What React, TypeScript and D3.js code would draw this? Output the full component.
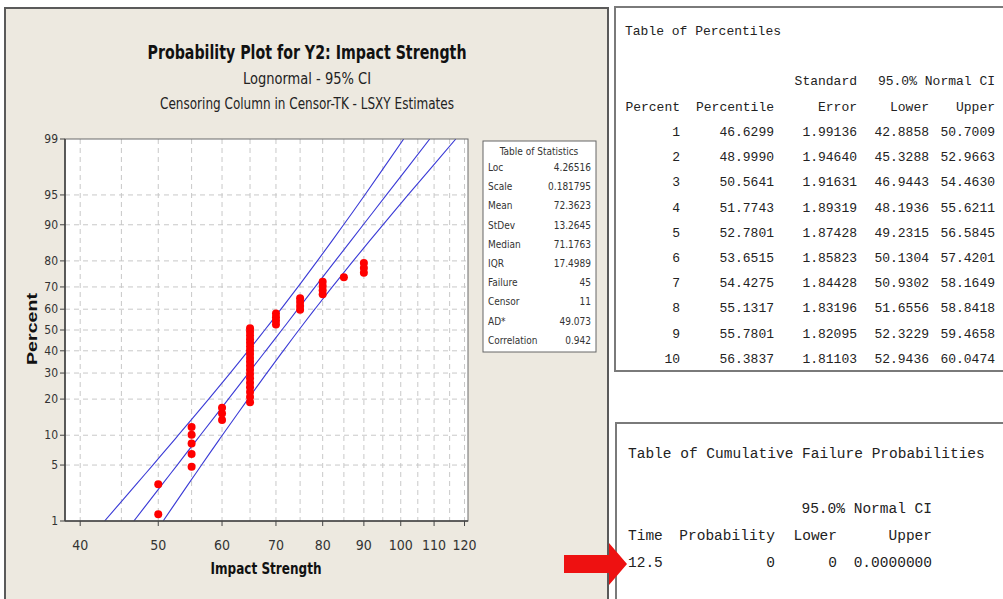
import React from "react";
import * as d3 from "d3";

// ---------- data ----------
const yTickPercents = [1, 5, 10, 20, 30, 40, 50, 60, 70, 80, 90, 95, 99];
const yGridPercents = [5, 10, 20, 30, 40, 50, 60, 70, 80, 90, 95];
const xTickValues = [40, 50, 60, 70, 80, 90, 100, 110, 120];
const xGridValues = [40, 45, 50, 55, 60, 65, 70, 75, 80, 85, 90, 95, 100, 105, 110, 115, 120];

const failureStrength = [
  50, 50,
  55, 55, 55, 55, 55,
  60, 60, 60,
  65, 65, 65, 65, 65, 65, 65, 65, 65, 65, 65, 65, 65, 65, 65, 65, 65, 65, 65,
  70, 70, 70, 70,
  75, 75, 75, 75,
  80, 80, 80, 80,
  85,
  90, 90, 90,
];
const failurePercent = [
  1.24, 3.01,
  4.79, 6.56, 8.33, 10.11, 11.88,
  13.65, 15.43, 17.2,
  18.97, 20.74, 22.52, 24.29, 26.06, 27.84, 29.61, 31.38, 33.16, 34.93, 36.7, 38.48, 40.25, 42.02, 43.79, 45.57, 47.34, 49.11, 50.89,
  52.66, 54.43, 56.21, 57.98,
  59.75, 61.52, 63.3, 65.07,
  66.84, 68.62, 70.39, 72.16,
  73.94,
  75.71, 77.48, 79.26,
];

const bandPercent = [1, 2, 3, 4, 5, 6, 7, 8, 9, 10, 20, 30, 40, 50, 60, 70, 80, 90, 95, 99];
const bandFit = [46.6299, 48.999, 50.5641, 51.7743, 52.7801, 53.6515, 54.4275, 55.1317, 55.7801, 56.3837, 61.09, 64.71, 67.98, 71.18, 74.52, 78.29, 82.93, 89.84, 95.99, 108.65];
const bandLower = [42.8858, 45.3288, 46.9443, 48.1936, 49.2315, 50.1304, 50.9302, 51.6556, 52.3229, 52.9436, 57.75, 61.41, 64.66, 67.79, 71.0, 74.54, 78.79, 84.93, 90.24, 100.85];
const bandUpper = [50.7009, 52.9663, 54.463, 55.6211, 56.5845, 57.4201, 58.1649, 58.8418, 59.4658, 60.0474, 64.62, 68.19, 71.47, 74.73, 78.22, 82.23, 87.29, 95.04, 102.11, 117.05];

const statLabels = ["Loc", "Scale", "Mean", "StDev", "Median", "IQR", "Failure", "Censor", "AD*", "Correlation"];
const statValues = ["4.26516", "0.181795", "72.3623", "13.2645", "71.1763", "17.4989", "45", "11", "49.073", "0.942"];

const pctPercent = ["1", "2", "3", "4", "5", "6", "7", "8", "9", "10"];
const pctPercentile = ["46.6299", "48.9990", "50.5641", "51.7743", "52.7801", "53.6515", "54.4275", "55.1317", "55.7801", "56.3837"];
const pctStdError = ["1.99136", "1.94640", "1.91631", "1.89319", "1.87428", "1.85823", "1.84428", "1.83196", "1.82095", "1.81103"];
const pctLower = ["42.8858", "45.3288", "46.9443", "48.1936", "49.2315", "50.1304", "50.9302", "51.6556", "52.3229", "52.9436"];
const pctUpper = ["50.7009", "52.9663", "54.4630", "55.6211", "56.5845", "57.4201", "58.1649", "58.8418", "59.4658", "60.0474"];

const cfpTime = ["12.5"];
const cfpProbability = ["0"];
const cfpLower = ["0"];
const cfpUpper = ["0.0000000"];

// ---------- helpers ----------
function probit(p: number): number {
  const a = [-3.969683028665376e1, 2.209460984245205e2, -2.759285104469687e2, 1.38357751867269e2, -3.066479806614716e1, 2.506628277459239];
  const b = [-5.447609879822406e1, 1.615858368580409e2, -1.556989798598866e2, 6.680131188771972e1, -1.328068155288572e1];
  const c = [-7.784894002430293e-3, -3.223964580411365e-1, -2.400758277161838, -2.549732539343734, 4.374664141464968, 2.938163982698783];
  const d = [7.784695709041462e-3, 3.224671290700398e-1, 2.445134137142996, 3.754408661907416];
  const plow = 0.02425;
  if (p < plow) {
    const q = Math.sqrt(-2 * Math.log(p));
    return (((((c[0] * q + c[1]) * q + c[2]) * q + c[3]) * q + c[4]) * q + c[5]) / ((((d[0] * q + d[1]) * q + d[2]) * q + d[3]) * q + 1);
  }
  if (p <= 1 - plow) {
    const q = p - 0.5;
    const r = q * q;
    return ((((((a[0] * r + a[1]) * r + a[2]) * r + a[3]) * r + a[4]) * r + a[5]) * q) / (((((b[0] * r + b[1]) * r + b[2]) * r + b[3]) * r + b[4]) * r + 1);
  }
  const q = Math.sqrt(-2 * Math.log(1 - p));
  return -(((((c[0] * q + c[1]) * q + c[2]) * q + c[3]) * q + c[4]) * q + c[5]) / ((((d[0] * q + d[1]) * q + d[2]) * q + d[3]) * q + 1);
}

const PL = 65, PR = 468, PT = 139, PB = 521;
const xScale = d3.scaleLog().domain([38.3, 121.2]).range([PL, PR]);
const zScale = d3.scaleLinear().domain([probit(0.01), probit(0.99)]).range([PB, PT]);
const yPos = (pct: number) => zScale(probit(pct / 100));

const sansFont = "'DejaVu Sans Condensed', 'Liberation Sans Narrow', Tahoma, 'Liberation Sans', Arial, sans-serif";
const monoFont = "'Liberation Mono', 'Courier New', 'DejaVu Sans Mono', monospace";

export default function App() {
  const lineGen = (vals: number[]) =>
    d3
      .line<number>()
      .x((v) => xScale(v))
      .y((_, i) => yPos(bandPercent[i]))
      .curve(d3.curveCatmullRom.alpha(0.5))(vals) || "";

  const bandColor = "#3a3ad6";
  const rowY0 = 136;
  const rowStep = 25.2;

  return (
    <svg width={1003} height={599} style={{ position: "absolute", left: 0, top: 0 }}>
      <rect x={0} y={0} width={1003} height={599} fill="#ffffff" />
      {/* left panel */}
      <rect x={5} y={8} width={603} height={600} fill="#ede9e0" stroke="#5a5a5a" strokeWidth={2} />

      {/* titles */}
      <text x={307} y={59} textAnchor="middle" fontFamily={sansFont} fontWeight="bold" fontSize={20} fill="#111" textLength={319} lengthAdjust="spacingAndGlyphs">
        Probability Plot for Y2: Impact Strength
      </text>
      <text x={307} y={84} textAnchor="middle" fontFamily={sansFont} fontSize={15} fill="#222" textLength={128} lengthAdjust="spacingAndGlyphs">
        Lognormal - 95% CI
      </text>
      <text x={307} y={109} textAnchor="middle" fontFamily={sansFont} fontSize={15} fill="#222" textLength={294} lengthAdjust="spacingAndGlyphs">
        Censoring Column in Censor-TK - LSXY Estimates
      </text>

      {/* plot area */}
      <defs>
        <clipPath id="plotClip">
          <rect x={PL} y={PT} width={PR - PL} height={PB - PT} />
        </clipPath>
      </defs>
      <rect x={PL} y={PT} width={PR - PL} height={PB - PT} fill="#ffffff" />
      {xGridValues.map((v) => (
        <line key={"gx" + v} x1={xScale(v)} x2={xScale(v)} y1={PT} y2={PB} stroke="#c8c8c8" strokeWidth={1} strokeDasharray="5,4" />
      ))}
      {yGridPercents.map((p) => (
        <line key={"gy" + p} x1={PL} x2={PR} y1={yPos(p)} y2={yPos(p)} stroke="#c8c8c8" strokeWidth={1} strokeDasharray="5,4" />
      ))}

      <g clipPath="url(#plotClip)">
        <path d={lineGen(bandLower)} fill="none" stroke={bandColor} strokeWidth={1.1} />
        <path d={lineGen(bandFit)} fill="none" stroke={bandColor} strokeWidth={1.1} />
        <path d={lineGen(bandUpper)} fill="none" stroke={bandColor} strokeWidth={1.1} />
      </g>

      {failureStrength.map((v, i) => (
        <circle key={"pt" + i} cx={xScale(v)} cy={yPos(failurePercent[i])} r={4} fill="#ff0000" />
      ))}

      {/* frame */}
      <rect x={PL} y={PT} width={PR - PL} height={PB - PT} fill="none" stroke="#6a6a6a" strokeWidth={1} />
      <line x1={PL} x2={PL} y1={PT} y2={PB} stroke="#444" strokeWidth={1.6} />
      <line x1={PL} x2={PR} y1={PB} y2={PB} stroke="#444" strokeWidth={1.6} />

      {/* y ticks */}
      {yTickPercents.map((p) => (
        <g key={"yt" + p}>
          <line x1={PL - 5} x2={PL} y1={yPos(p)} y2={yPos(p)} stroke="#444" strokeWidth={1} />
          <text x={PL - 7} y={yPos(p) + 4} textAnchor="end" fontFamily={sansFont} fontSize={12} fill="#333">
            {p}
          </text>
        </g>
      ))}
      {/* x ticks */}
      {xTickValues.map((v) => (
        <g key={"xt" + v}>
          <line x1={xScale(v)} x2={xScale(v)} y1={PB} y2={PB + 5} stroke="#444" strokeWidth={1} />
          <text x={xScale(v)} y={550} textAnchor="middle" fontFamily={sansFont} fontSize={14} fill="#333">
            {v}
          </text>
        </g>
      ))}

      <text x={266} y={574} textAnchor="middle" fontFamily={sansFont} fontWeight="bold" fontSize={16} fill="#111" textLength={111} lengthAdjust="spacingAndGlyphs">
        Impact Strength
      </text>
      <text transform="translate(37,329) rotate(-90)" textAnchor="middle" fontFamily="'Liberation Sans', Arial, sans-serif" fontWeight="bold" fontSize={15} fill="#111" textLength={72} lengthAdjust="spacingAndGlyphs">
        Percent
      </text>

      {/* statistics box */}
      <rect x={483} y={141} width={113} height={211} fill="#ffffff" stroke="#666" strokeWidth={1} />
      <text x={539} y={155} textAnchor="middle" fontFamily={sansFont} fontSize={10} fill="#333">
        Table of Statistics
      </text>
      {statLabels.map((s, i) => (
        <g key={"st" + i}>
          <text x={488} y={171 + i * 19.2} fontFamily={sansFont} fontSize={10} fill="#333">
            {s}
          </text>
          <text x={591} y={171 + i * 19.2} textAnchor="end" fontFamily={sansFont} fontSize={10} fill="#333">
            {statValues[i]}
          </text>
        </g>
      ))}

      {/* percentile table */}
      <rect x={615} y={7} width={400} height={364} fill="#ffffff" stroke="#7a7a7a" strokeWidth={2} />
      <g fontFamily={monoFont} fontSize={13} fill="#222">
        <text x={625} y={35}>Table of Percentiles</text>
        <text x={857} y={85} textAnchor="end">Standard</text>
        <text x={995} y={85} textAnchor="end">95.0% Normal CI</text>
        <text x={680} y={111} textAnchor="end">Percent</text>
        <text x={774} y={111} textAnchor="end">Percentile</text>
        <text x={857} y={111} textAnchor="end">Error</text>
        <text x={929} y={111} textAnchor="end">Lower</text>
        <text x={995} y={111} textAnchor="end">Upper</text>
        {pctPercent.map((p, i) => (
          <g key={"pr" + i}>
            <text x={680} y={rowY0 + i * rowStep} textAnchor="end">{p}</text>
            <text x={774} y={rowY0 + i * rowStep} textAnchor="end">{pctPercentile[i]}</text>
            <text x={857} y={rowY0 + i * rowStep} textAnchor="end">{pctStdError[i]}</text>
            <text x={929} y={rowY0 + i * rowStep} textAnchor="end">{pctLower[i]}</text>
            <text x={995} y={rowY0 + i * rowStep} textAnchor="end">{pctUpper[i]}</text>
          </g>
        ))}
      </g>

      {/* cumulative failure table */}
      <rect x={616} y={423} width={400} height={200} fill="#ffffff" stroke="#7a7a7a" strokeWidth={2} />
      <g fontFamily={monoFont} fontSize={14.5} fill="#222">
        <text x={628} y={458}>Table of Cumulative Failure Probabilities</text>
        <text x={932} y={513} textAnchor="end">95.0% Normal CI</text>
        <text x={628} y={540}>Time</text>
        <text x={775} y={540} textAnchor="end">Probability</text>
        <text x={837} y={540} textAnchor="end">Lower</text>
        <text x={932} y={540} textAnchor="end">Upper</text>
        {cfpTime.map((t, i) => (
          <g key={"cf" + i}>
            <text x={628} y={567 + i * 26}>{t}</text>
            <text x={775} y={567 + i * 26} textAnchor="end">{cfpProbability[i]}</text>
            <text x={837} y={567 + i * 26} textAnchor="end">{cfpLower[i]}</text>
            <text x={932} y={567 + i * 26} textAnchor="end">{cfpUpper[i]}</text>
          </g>
        ))}
      </g>

      {/* red arrow */}
      <path d="M564,555 L609,555 L609,543 L627,564 L609,585 L609,573 L564,573 Z" fill="#ee1111" />
    </svg>
  );
}
